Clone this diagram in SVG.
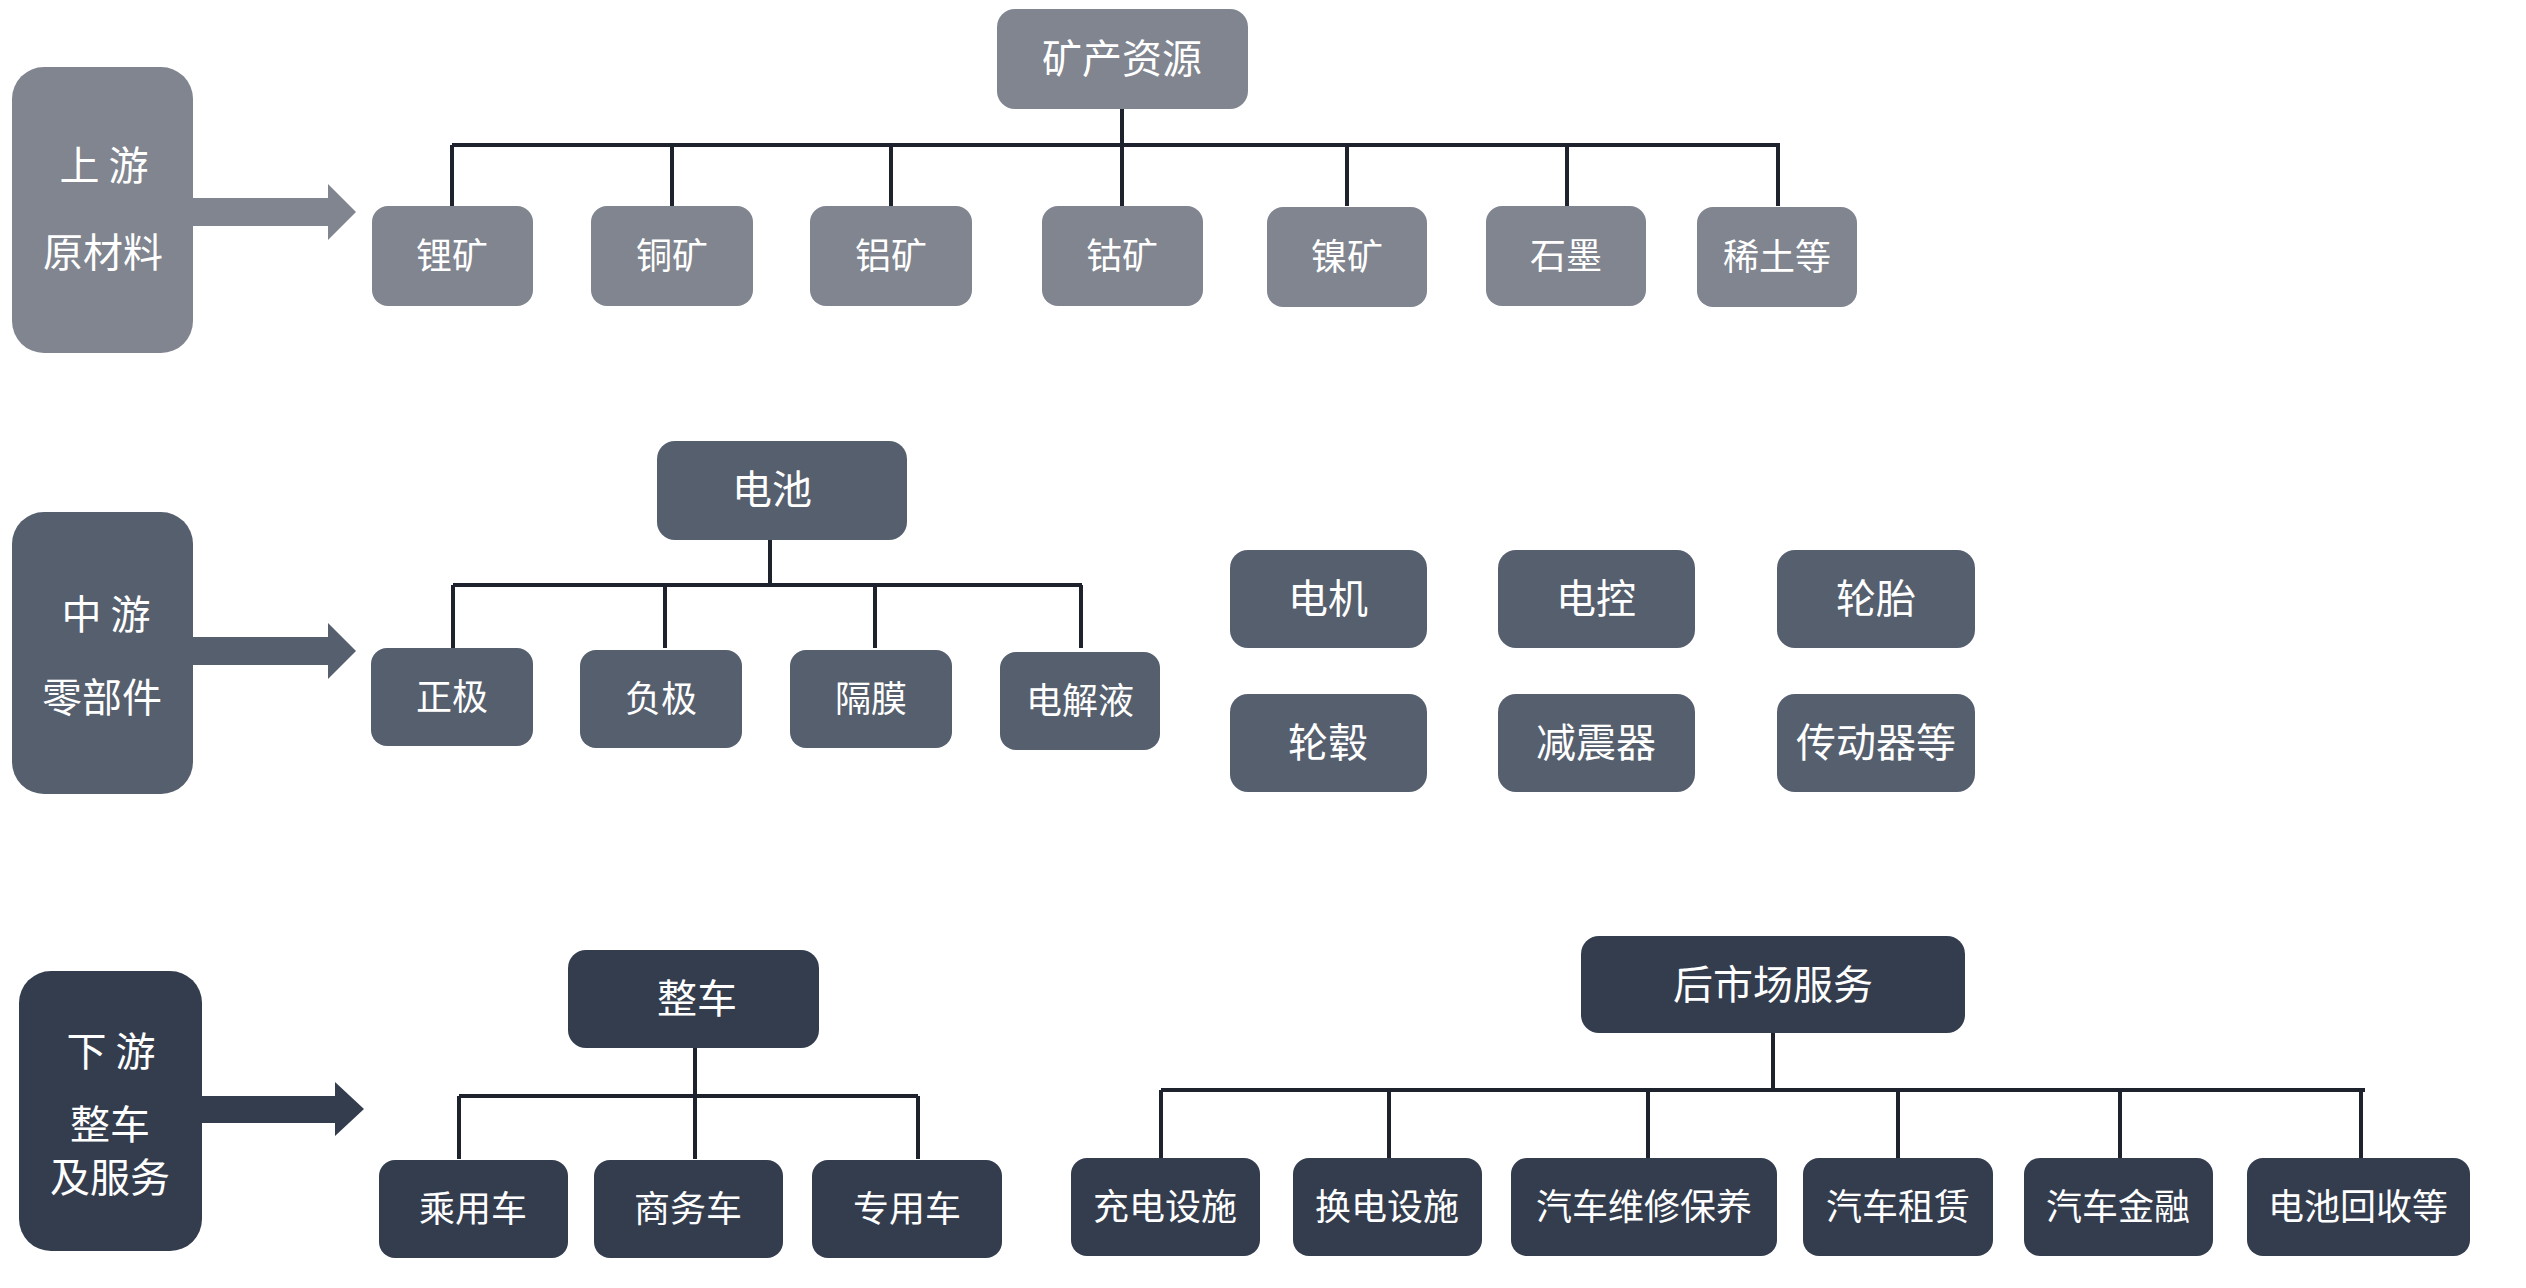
<svg xmlns="http://www.w3.org/2000/svg" width="2526" height="1288" viewBox="0 0 2526 1288">
<style>
.t{font-family:"Noto Sans CJK SC","Noto Sans",sans-serif;fill:#ffffff;text-anchor:middle}
.f40{font-size:40px}
.f36{font-size:36px}
.up{fill:#80858f}
.mid{fill:#565f6e}
.down{fill:#343d4e}
.ln{stroke:#1e222d;stroke-width:4;fill:none}
</style>
<rect width="2526" height="1288" fill="#ffffff"/>

<g id="connectors">
<!-- upstream -->
<path class="ln" d="M1122 109 V145 M452 145 H1780 M452 145 V206 M672 145 V206 M891 145 V206 M1122 145 V206 M1347 145 V206 M1567 145 V206 M1778 145 V206"/>
<!-- midstream battery -->
<path class="ln" d="M770 540 V585 M453 585 H1082 M453 585 V648 M665 585 V648 M875 585 V648 M1081 585 V648"/>
<!-- downstream vehicles -->
<path class="ln" d="M695 1047 V1159 M459 1096 H918 M459 1096 V1159 M918 1096 V1159"/>
<!-- aftermarket -->
<path class="ln" d="M1773 1031 V1090 M1161 1090 H2365 M1161 1090 V1158 M1389 1090 V1158 M1648 1090 V1158 M1898 1090 V1158 M2120 1090 V1158 M2361 1090 V1158"/>
</g>

<g id="upstream">
<rect class="up" x="12" y="67" width="181" height="286" rx="32"/>
<text class="t f40" x="104" y="180">上 游</text>
<text class="t f40" x="103" y="267">原材料</text>
<polygon class="up" points="192,198 328,198 328,184 356,212 328,240 328,226 192,226"/>
</g>
<g id="n-kuangchan"><rect class="up" x="997" y="9" width="251" height="100" rx="18"/><text class="t f40" x="1122" y="73">矿产资源</text></g>
<g id="n-li"><rect class="up" x="372" y="206" width="161" height="100" rx="16"/><text class="t f36" x="452" y="269">锂矿</text></g>
<g id="n-tong"><rect class="up" x="591" y="206" width="162" height="100" rx="16"/><text class="t f36" x="672" y="269">铜矿</text></g>
<g id="n-lv"><rect class="up" x="810" y="206" width="162" height="100" rx="16"/><text class="t f36" x="891" y="269">铝矿</text></g>
<g id="n-gu"><rect class="up" x="1042" y="206" width="161" height="100" rx="16"/><text class="t f36" x="1122" y="269">钴矿</text></g>
<g id="n-nie"><rect class="up" x="1267" y="207" width="160" height="100" rx="16"/><text class="t f36" x="1347" y="270">镍矿</text></g>
<g id="n-shimo"><rect class="up" x="1486" y="206" width="160" height="100" rx="16"/><text class="t f36" x="1566" y="269">石墨</text></g>
<g id="n-xitu"><rect class="up" x="1697" y="207" width="160" height="100" rx="16"/><text class="t f36" x="1777" y="270">稀土等</text></g>

<g id="midstream">
<rect class="mid" x="12" y="512" width="181" height="282" rx="32"/>
<text class="t f40" x="106" y="629">中 游</text>
<text class="t f40" x="102" y="712">零部件</text>
<polygon class="mid" points="192,637 328,637 328,623 356,651 328,679 328,665 192,665"/>
</g>
<g id="n-dianchi"><rect class="mid" x="657" y="441" width="250" height="99" rx="18"/><text class="t f40" x="772" y="504">电池</text></g>
<g id="n-zhengji"><rect class="mid" x="371" y="648" width="162" height="98" rx="16"/><text class="t f36" x="452" y="710">正极</text></g>
<g id="n-fuji"><rect class="mid" x="580" y="650" width="162" height="98" rx="16"/><text class="t f36" x="661" y="712">负极</text></g>
<g id="n-gemo"><rect class="mid" x="790" y="650" width="162" height="98" rx="16"/><text class="t f36" x="871" y="712">隔膜</text></g>
<g id="n-jieye"><rect class="mid" x="1000" y="652" width="160" height="98" rx="16"/><text class="t f36" x="1080" y="714">电解液</text></g>
<g id="n-dianji"><rect class="mid" x="1230" y="550" width="197" height="98" rx="18"/><text class="t f40" x="1328" y="613">电机</text></g>
<g id="n-diankong"><rect class="mid" x="1498" y="550" width="197" height="98" rx="18"/><text class="t f40" x="1596" y="613">电控</text></g>
<g id="n-luntai"><rect class="mid" x="1777" y="550" width="198" height="98" rx="18"/><text class="t f40" x="1876" y="613">轮胎</text></g>
<g id="n-lungu"><rect class="mid" x="1230" y="694" width="197" height="98" rx="18"/><text class="t f40" x="1328" y="757">轮毂</text></g>
<g id="n-jianzhen"><rect class="mid" x="1498" y="694" width="197" height="98" rx="18"/><text class="t f40" x="1596" y="757">减震器</text></g>
<g id="n-chuandong"><rect class="mid" x="1777" y="694" width="198" height="98" rx="18"/><text class="t f40" x="1876" y="757">传动器等</text></g>

<g id="downstream">
<rect class="down" x="19" y="971" width="183" height="280" rx="32"/>
<text class="t f40" x="111" y="1066">下 游</text>
<text class="t f40" x="110" y="1139">整车</text>
<text class="t f40" x="110" y="1192">及服务</text>
<polygon class="down" points="201,1096 335,1096 335,1082 364,1109 335,1136 335,1123 201,1123"/>
</g>
<g id="n-zhengche"><rect class="down" x="568" y="950" width="251" height="98" rx="18"/><text class="t f40" x="697" y="1013">整车</text></g>
<g id="n-chengyong"><rect class="down" x="379" y="1160" width="189" height="98" rx="16"/><text class="t f36" x="473" y="1222">乘用车</text></g>
<g id="n-shangwu"><rect class="down" x="594" y="1160" width="189" height="98" rx="16"/><text class="t f36" x="688" y="1222">商务车</text></g>
<g id="n-zhuanyong"><rect class="down" x="812" y="1160" width="190" height="98" rx="16"/><text class="t f36" x="907" y="1222">专用车</text></g>
<g id="n-houshichang"><rect class="down" x="1581" y="936" width="384" height="97" rx="18"/><text class="t f40" x="1773" y="999">后市场服务</text></g>
<g id="n-chongdian"><rect class="down" x="1071" y="1158" width="189" height="98" rx="16"/><text class="t f36" x="1165" y="1220">充电设施</text></g>
<g id="n-huandian"><rect class="down" x="1293" y="1158" width="189" height="98" rx="16"/><text class="t f36" x="1387" y="1220">换电设施</text></g>
<g id="n-weixiu"><rect class="down" x="1511" y="1158" width="266" height="98" rx="16"/><text class="t f36" x="1644" y="1220">汽车维修保养</text></g>
<g id="n-zulin"><rect class="down" x="1803" y="1158" width="190" height="98" rx="16"/><text class="t f36" x="1898" y="1220">汽车租赁</text></g>
<g id="n-jinrong"><rect class="down" x="2024" y="1158" width="189" height="98" rx="16"/><text class="t f36" x="2118" y="1220">汽车金融</text></g>
<g id="n-huishou"><rect class="down" x="2247" y="1158" width="223" height="98" rx="16"/><text class="t f36" x="2358" y="1220">电池回收等</text></g>
</svg>
